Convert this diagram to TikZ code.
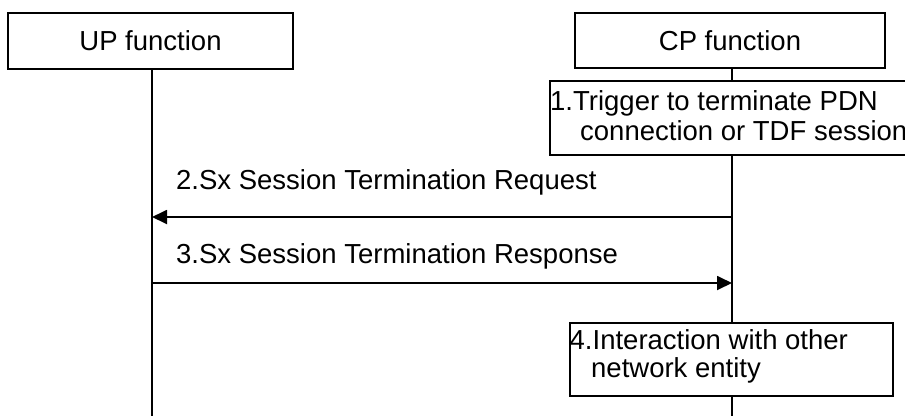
\documentclass[tikz,border=0pt]{standalone}
\usepackage{fontspec}
\setmainfont{Liberation Sans}
\usetikzlibrary{arrows.meta}
\begin{document}
\begin{tikzpicture}[x=1pt,y=-1pt,
  every node/.style={font=\fontsize{27.5}{30}\selectfont},
  box/.style={draw=black, line width=1.6pt, rectangle, inner sep=0pt},
  txt/.style={inner sep=0pt, anchor=base west},
  life/.style={draw=black, line width=1.6pt},
  msg/.style={draw=black, line width=1.8pt, -{Triangle[length=15pt,width=14pt]}}]
\useasboundingbox (0,0) rectangle (905,416);
% entities
\node[box, minimum width=285pt, minimum height=56pt] (up) at (150.5,41) {UP function};
\node[box, minimum width=310pt, minimum height=55pt] (cp) at (730,40.5) {CP function};
% step boxes
\node[box, minimum width=411pt, minimum height=74pt, anchor=north west] (trig) at (549,80) {};
\node[txt] (trig1) at (550,110) {1.Trigger to terminate PDN};
\node[txt] (trig2) at (580,140) {connection or TDF session};
\node[box, minimum width=323pt, minimum height=73pt, anchor=north west] (inter) at (569,322) {};
\node[txt] (inter1) at (569.5,349) {4.Interaction with other};
\node[txt] (inter2) at (591,377) {network entity};
% lifeline coordinates
\coordinate (upend) at (152,416);
\coordinate (cpend) at (732,416);
\coordinate (a2r) at (732,217);
\coordinate (a2l) at (152,217);
\coordinate (a3l) at (152,283);
\coordinate (a3r) at (732,283);
% lifelines
\draw[life] (up.south -| upend) -- (upend);
\draw[life] (cp.south -| cpend) -- (trig.north -| cpend);
\draw[life] (trig.south -| cpend) -- (inter.north -| cpend);
\draw[life] (inter.south -| cpend) -- (cpend);
% messages
\draw[msg] (a2r) -- (a2l);
\node[txt] (m2) at (176,189) {2.Sx Session Termination Request};
\draw[msg] (a3l) -- (a3r);
\node[txt] (m3) at (176,263) {3.Sx Session Termination Response};
\end{tikzpicture}
\end{document}
